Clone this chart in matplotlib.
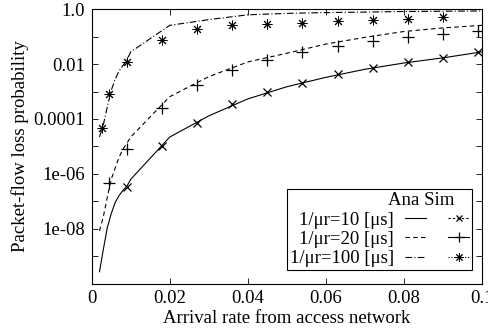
import numpy as np
import matplotlib
matplotlib.use("Agg")
import matplotlib.pyplot as plt
from matplotlib.lines import Line2D

plt.rcParams['font.family'] = ['Liberation Serif', 'DejaVu Serif']

# analytical curves
x_ana = [0.002, 0.003, 0.004, 0.005, 0.006, 0.007, 0.008, 0.009, 0.01,
         0.02, 0.03, 0.04, 0.05, 0.06, 0.07, 0.08, 0.09, 0.1]
ana_10 = [2.7e-10, 1.8e-9, 1.1e-8, 3.5e-8, 8.9e-8, 1.6e-7, 2.5e-7, 3.5e-7, 6.3e-7,
          2.2e-5, 1.3e-4, 5.4e-4, 1.5e-3, 3.3e-3, 6.5e-3, 1.1e-2, 1.7e-2, 2.8e-2]
ana_20 = [8.3e-9, 2.8e-8, 1.4e-7, 6.3e-7, 1.6e-6, 4.0e-6, 7.9e-6, 1.3e-5, 2.2e-5,
          6.5e-4, 3.5e-3, 1.2e-2, 2.5e-2, 5.4e-2, 9.5e-2, 0.155, 0.21, 0.26]
ana_100 = [2.2e-5, 6.3e-5, 2.8e-4, 1.1e-3, 2.8e-3, 5.6e-3, 8.9e-3, 1.4e-2, 2.8e-2,
           0.26, 0.42, 0.63, 0.71, 0.76, 0.79, 0.83, 0.85, 0.87]

# simulation points
x_sim10 = [0.009, 0.018, 0.027, 0.036, 0.045, 0.054, 0.063, 0.072, 0.081, 0.09, 0.099]
sim_10 = [3.4e-7, 1.0e-5, 7.4e-5, 3.4e-4, 9.3e-4, 2.1e-3, 4.2e-3, 7.2e-3, 1.17e-2, 1.74e-2, 2.7e-2]
x_sim20 = [0.0045, 0.009, 0.018, 0.027, 0.036, 0.045, 0.054, 0.063, 0.072, 0.081, 0.09, 0.099]
sim_20 = [4.5e-7, 7.8e-6, 2.5e-4, 1.8e-3, 6.3e-3, 1.4e-2, 2.75e-2, 4.6e-2, 6.8e-2, 9.5e-2, 0.126, 0.155]
x_sim100 = [0.0027, 0.0045, 0.009, 0.018, 0.027, 0.036, 0.045, 0.054, 0.063, 0.072, 0.081, 0.09]
sim_100 = [4.8e-5, 8.5e-4, 1.2e-2, 7.4e-2, 0.186, 0.275, 0.28, 0.32, 0.37, 0.42, 0.46, 0.51]

labels = ['1/\u03bcr=10 [\u03bcs]', '1/\u03bcr=20 [\u03bcs]', '1/\u03bcr=100 [\u03bcs]']
xticks = [0, 0.02, 0.04, 0.06, 0.08, 0.1]
xticklabels = ['0', '0.02', '0.04', '0.06', '0.08', '0.1']
yticks = [1e-10, 1e-9, 1e-8, 1e-7, 1e-6, 1e-5, 1e-4, 1e-3, 1e-2, 1e-1, 1.0]
yticklabels = ['', '', '1e-08', '', '1e-06', '', '0.0001', '', '0.01', '', '1.0']

fs = 13.5
lw = 0.8
star = (8, 2, 0)

fig = plt.figure(figsize=(4.89, 3.32), dpi=100)
ax = fig.add_axes([0.1875, 0.146, 0.7982, 0.826])

l1, = ax.plot(x_ana, ana_10, color='black', lw=lw, ls='-')
l2, = ax.plot(x_ana, ana_20, color='black', lw=lw, ls=(0, (4, 3)))
l3, = ax.plot(x_ana, ana_100, color='black', lw=lw, ls=(0, (6, 2, 1, 2)))
ax.plot(x_sim10, sim_10, ls='none', marker='x', ms=6, mew=0.9, color='black')
ax.plot(x_sim20, sim_20, ls='none', marker='+', ms=8, mew=0.9, color='black')
ax.plot(x_sim100, sim_100, ls='none', marker=star, ms=7, mew=0.7, color='black')

ax.set_yscale('log')
ax.set_xlim(0, 0.1)
ax.set_ylim(1e-10, 1.0)
ax.set_xticks(xticks)
ax.set_xticklabels(xticklabels)
ax.set_yticks(yticks)
ax.set_yticklabels(yticklabels)
ax.yaxis.set_minor_locator(matplotlib.ticker.NullLocator())
ax.tick_params(direction='in', length=4, width=0.6, labelsize=fs,
               top=True, right=True, pad=5)
for s in ax.spines.values():
    s.set_linewidth(0.8)

ax.set_xlabel('Arrival rate from access network', fontsize=fs, labelpad=2)
ax.set_ylabel('Packet-flow loss probability', fontsize=fs, labelpad=3)

h_sim = [Line2D([], [], color='black', lw=lw, ls=(0, (2, 2)), marker='x', ms=5, mew=0.9),
         Line2D([], [], color='black', lw=lw, ls='-', marker='+', ms=7, mew=0.9),
         Line2D([], [], color='black', lw=lw, ls=(0, (1, 1.5)), marker=star, ms=6, mew=0.7)]
leg = ax.legend([l1, l2, l3] + h_sim, labels + ['', '', ''], ncol=2,
                markerfirst=False, loc='lower right', bbox_to_anchor=(0.974, 0.049),
                fontsize=fs, title='Ana Sim   ', title_fontsize=fs, alignment='right',
                fancybox=False, framealpha=1, edgecolor='black',
                handlelength=1.1, handletextpad=0.6, columnspacing=0.6,
                labelspacing=0.12, borderpad=0.15, borderaxespad=0)
leg.get_frame().set_linewidth(0.8)

fig.savefig('out.png', dpi=100)
